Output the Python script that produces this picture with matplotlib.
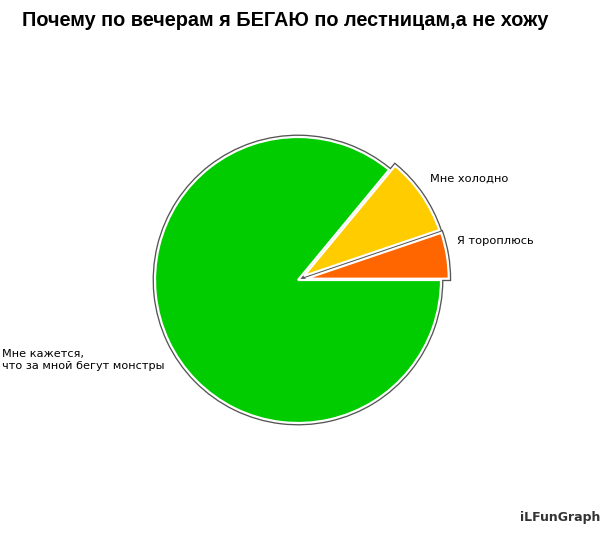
import matplotlib
matplotlib.use('Agg')
import matplotlib.pyplot as plt

# data
title = "Почему по вечерам я БЕГАЮ по лестницам,а не хожу"
labels = ["Я тороплюсь", "Мне холодно", "Мне кажется,\nчто за мной бегут монстры"]
values = [5.2, 8.8, 86.0]
colors = ["#ff6600", "#ffcc00", "#00cc00"]
explode = [0.055, 0.05, 0.0]

W, H = 604, 533
fig = plt.figure(figsize=(W / 100, H / 100), dpi=100)
fig.patch.set_facecolor('white')

# pie axes: centre at (298, 280) px, radius 143 px, limits +-1.25
cx, cy, r = 298, 280, 143
half = r * 1.25
ax = fig.add_axes([(cx - half) / W, (H - cy - half) / H, 2 * half / W, 2 * half / H])

# dark outline first, then a white band on top
for lw, ec in [(3.5, '#555555'), (1.6, 'white')]:
    ax.pie(values, colors=colors, explode=explode, startangle=0,
           counterclock=True, radius=1,
           wedgeprops=dict(edgecolor=ec, linewidth=lw, joinstyle='miter'))
ax.set_xlim(-1.25, 1.25)
ax.set_ylim(-1.25, 1.25)
ax.set_aspect('equal')
ax.axis('off')

fig.text(22 / W, 1 - 20 / H, title, fontsize=14.3, fontweight='bold',
         family='Liberation Sans', va='center', ha='left', color='black')

fig.text(457 / W, 1 - 241 / H, labels[0], fontsize=8.2, va='center', ha='left')
fig.text(430 / W, 1 - 179 / H, labels[1], fontsize=8.2, va='center', ha='left')
fig.text(2 / W, 1 - 360 / H, labels[2], fontsize=8.1, va='center', ha='left',
         linespacing=1.2)

fig.text(600 / W, 1 - 518 / H, "iLFunGraph", fontsize=9, fontweight='bold',
         color='#333333', va='center', ha='right')

plt.savefig('out.png', dpi=100, facecolor='white')
